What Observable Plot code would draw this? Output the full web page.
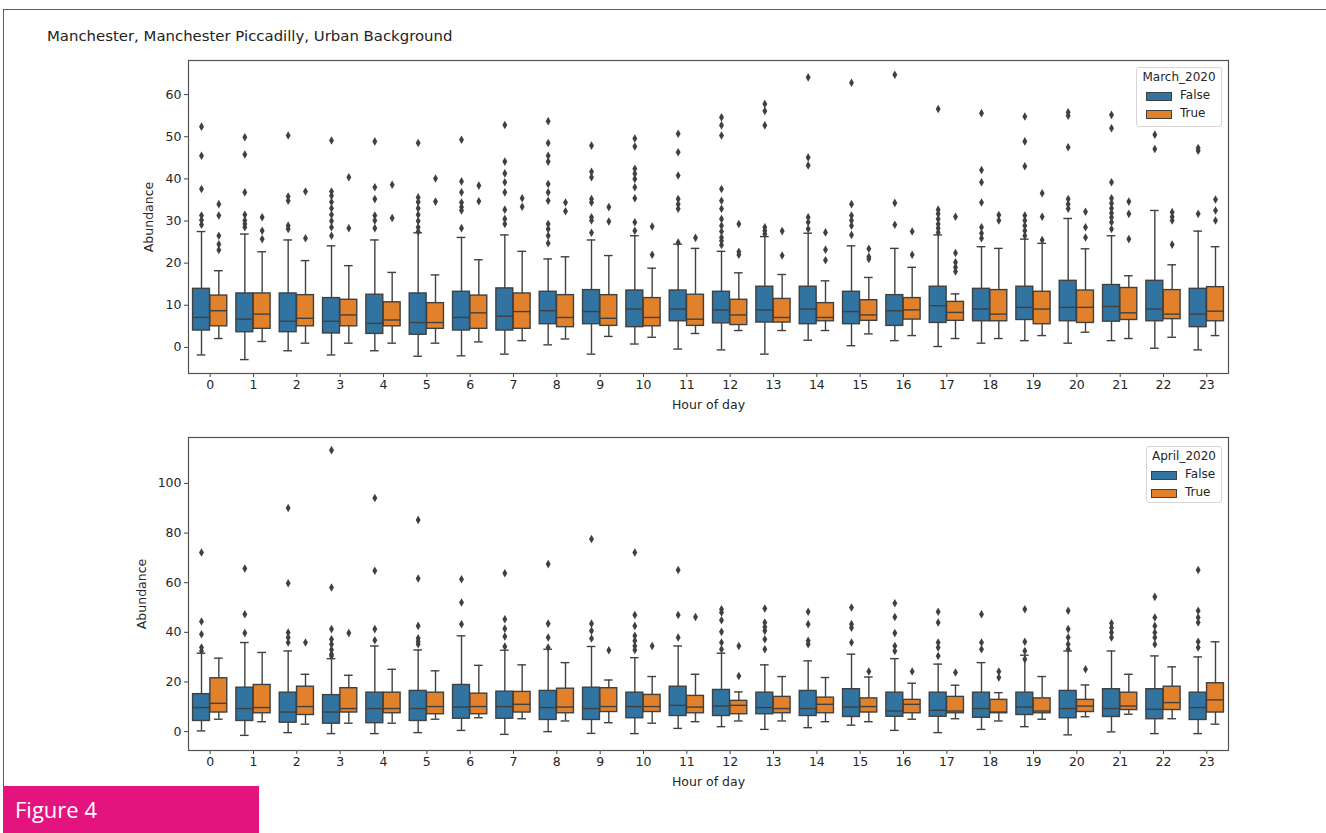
<!DOCTYPE html>
<html>
<head>
<meta charset="utf-8">
<script src="https://cdn.jsdelivr.net/npm/d3@7"></script>
<script src="https://cdn.jsdelivr.net/npm/@observablehq/plot@0.6"></script>
<style>
  html, body { margin: 0; padding: 0; background: #fff; }
  body { width: 1326px; height: 833px; position: relative; overflow: hidden; font-family: "DejaVu Sans", sans-serif; }
  .pinkTop { position: absolute; left: 3px; top: 9px; width: 1323px; height: 1px; background: #e4147f; }
  .pinkLeft { position: absolute; left: 3px; top: 9px; width: 1px; height: 777px; background: #e4147f; }
  .fig { position: absolute; left: 3px; top: 786px; width: 256px; height: 47px; background: #e4147f; color: #fff;
         font-family: "Open Sans", Lato, sans-serif; font-size: 22px; line-height: 47px; padding-left: 12px; box-sizing: border-box; }
  .title { position: absolute; left: 47px; top: 27px; font-size: 14.9px; color: #222; font-family: "DejaVu Sans", sans-serif; }
  .panel { position: absolute; left: 0; }
  .legend { position: absolute; border: 1px solid #d6d6d6; border-radius: 3px; background: rgba(255,255,255,0.85);
            font-family: "DejaVu Sans", sans-serif; font-size: 12px; color: #262626; box-sizing: border-box; }
  .legend .lt { position: absolute; left: 0; right: 0; text-align: center; }
  .legend .sw { position: absolute; width: 26px; height: 9px; border: 1px solid #404040; box-sizing: border-box; }
  .legend .lb { position: absolute; }
</style>
</head>
<body>
<div class="pinkTop"></div>
<div class="pinkLeft"></div>
<div class="title">Manchester, Manchester Piccadilly, Urban Background</div>
<div id="top" class="panel" style="top:40px"></div>
<div id="bottom" class="panel" style="top:417px"></div>
<div id="legTop" class="legend" style="left:1136px;top:67px;width:86px;height:60px"></div>
<div id="legBottom" class="legend" style="left:1146px;top:446px;width:76px;height:57px"></div>
<div class="fig">Figure 4</div>
<script>
// ---------- categories ----------
const hours = [0,1,2,3,4,5,6,7,8,9,10,11,12,13,14,15,16,17,18,19,20,21,22,23];
const groups = ["False", "True"];
const colors = ["#3274a1", "#e1812c"];
const marchTicks = [0,10,20,30,40,50,60];
const aprilTicks = [0,20,40,60,80,100];

// ---------- March_2020 = False ----------
const marchFalseQ1  = [4.0,3.6,3.6,3.3,3.2,3.0,4.0,4.0,5.5,5.5,4.8,6.2,5.7,5.9,5.5,5.5,5.1,5.8,6.2,6.5,6.2,6.1,6.2,4.8];
const marchFalseMed = [7.1,6.7,6.2,6.2,5.7,5.9,7.1,7.4,8.7,8.5,9.1,9.1,8.9,8.9,9.1,8.5,8.7,9.9,9.1,9.5,9.5,9.7,9.1,7.9];
const marchFalseQ3  = [13.9,12.8,12.8,11.7,12.5,12.8,13.2,14.0,13.2,13.6,13.5,13.5,13.2,14.4,14.4,13.2,12.4,14.4,13.9,14.4,15.8,14.8,15.8,13.9];
const marchFalseLo  = [-1.8,-2.9,-0.8,-1.8,-0.8,-2.1,-2.0,-1.6,0.6,-1.6,0.8,-0.4,-0.6,-1.6,1.7,0.4,1.6,0.2,1.0,1.6,1.0,1.6,-0.2,-0.6];
const marchFalseHi  = [27.5,26.9,25.5,24.1,25.5,27.2,26.1,26.7,21.0,25.5,26.5,24.5,22.8,26.3,27.1,24.1,23.5,26.7,23.9,25.7,30.6,26.5,32.5,27.6];
const marchFalseOut = [
  [29.1,30.2,31.3,37.6,45.5,52.4],
  [28.5,29.3,30.1,31.5,36.8,45.8,49.9],
  [28.1,28.9,34.8,35.8,50.3],
  [26.5,28.5,30,31.5,33,34.5,36,37,49.1],
  [28.3,30.1,31.3,35.2,38,48.9],
  [27.5,28.5,30,31.5,33,34.5,35.6,48.5],
  [28.3,32.5,33.3,34.4,36.8,39.4,49.3],
  [29.3,30.5,32.7,36.8,39.2,41.3,44.1,52.8],
  [24.7,26.5,28.1,29.3,34.8,36.8,38.8,44.1,45.5,48.5,53.7],
  [27.2,30.1,30.9,34.4,35.2,40.4,41.7,47.9],
  [27.7,29.7,35.4,38,40,41.2,42.4,47.7,49.6],
  [24.9,32.9,34,35.2,40.8,46.3,50.7],
  [24.3,25.3,26.1,27.5,28.9,30.5,32.9,34.8,37.6,50.3,52.7,54.6],
  [26.9,27.7,28.5,52.7,56.1,57.8],
  [28.1,29.7,30.9,43.2,45.1,64.1],
  [26.7,28.9,30.1,31.3,34,62.8],
  [29.1,34.3,64.7],
  [27.3,28.3,29.3,30.5,31.7,32.7,56.6],
  [25.9,27.1,28.5,34.4,39.2,42.1,55.6],
  [26.5,27.7,28.9,30.1,31.3,43,48.9,54.8],
  [32.9,34,35.2,47.5,55,55.8],
  [28.1,29.7,30.9,31.9,33,34.2,35.4,39.2,52,55.2],
  [47.1,50.5],
  [31.7,46.7,47.3]
];

// ---------- March_2020 = True ----------
const marchTrueQ1  = [5.0,4.4,5.0,5.0,5.0,4.4,4.4,4.4,4.8,5.1,5.0,5.1,5.3,5.9,6.2,6.3,6.6,6.3,6.2,5.5,5.8,6.5,6.7,6.2];
const marchTrueMed = [8.7,7.9,6.9,7.7,6.5,5.9,8.2,8.5,7.1,6.9,7.1,6.7,7.7,7.1,7.1,7.7,8.9,8.3,7.9,9.1,9.5,8.2,7.9,8.6];
const marchTrueQ3  = [12.3,12.8,12.4,11.3,10.7,10.5,12.3,12.8,12.4,12.4,11.7,12.5,11.3,11.5,10.5,11.2,11.7,10.8,13.6,13.2,13.5,14.1,13.6,14.3];
const marchTrueLo  = [2.1,1.4,1.0,1.0,1.0,1.0,1.3,1.6,2.0,2.6,2.4,3.3,4.0,4.0,4.0,3.2,2.8,2.1,2.1,2.8,3.6,2.1,2.4,2.8];
const marchTrueHi  = [18.2,22.7,20.6,19.4,17.8,17.2,20.8,22.8,21.5,21.8,18.8,23.5,17.7,17.3,15.8,16.6,19.0,12.7,23.5,24.7,23.4,17.0,19.6,23.9];
const marchTrueOut = [
  [23.1,24.5,26.5,31.3,34],
  [25.7,27.7,30.9],
  [25.9,37],
  [28.3,40.4],
  [30.7,38.6],
  [34.6,40.1],
  [34.7,38.4],
  [33.4,35.4],
  [32.3,34.4],
  [29.9,33.3],
  [22,28.7],
  [26],
  [22,22.7,29.3],
  [21.8,27.6],
  [20.7,23.2,27.3],
  [21,21.5,23.4],
  [22,27.5],
  [18,19,20.2,22.4,31],
  [30.1,31.4],
  [25.5,31,36.6],
  [26.1,28.5,32.2],
  [25.7,31.7,34.6],
  [24.4,30.1,31,32.1],
  [30.1,32.5,35.1]
];

// ---------- April_2020 = False ----------
const aprilFalseQ1  = [4.3,4.3,3.6,3.2,3.4,4.3,5.2,5.2,4.7,4.7,5.4,6.3,6.3,7.0,6.3,5.9,6.0,6.0,5.6,6.7,5.4,5.9,5.0,4.7];
const aprilFalseMed = [9.7,9.3,7.9,7.9,9.3,9.3,9.9,10.1,9.7,9.3,10.1,10.6,10.3,9.7,9.3,9.9,8.3,8.6,9.3,9.9,9.3,9.3,9.0,9.7];
const aprilFalseQ3  = [15.1,17.7,15.7,14.7,15.7,16.4,18.8,16.1,16.4,17.7,15.7,18.1,16.8,15.7,16.4,17.1,15.7,15.7,15.7,15.7,16.4,17.1,17.1,15.7];
const aprilFalseLo  = [0.3,-1.5,-0.4,-0.8,-0.8,-0.4,0.5,-1.1,0,-0.7,-0.8,1.3,2.0,0.9,1.6,2.6,0.5,-0.4,0.9,2.0,-1.3,-0.1,-0.8,-0.8];
const aprilFalseHi  = [31.6,35.9,32.5,29.4,34.5,32.9,38.6,32.8,33.2,34.3,29.8,34.5,31.6,26.9,28.5,31.2,29.4,27.2,27.8,30.8,32.5,32.5,30.5,30.1];
const aprilFalseOut = [
  [32.5,33.9,39.2,44.4,72.2],
  [39.7,47.3,65.7],
  [35.9,37.9,39.9,59.8,90.1],
  [30.5,31.2,33,35.2,37.2,41.3,58.1,113.4],
  [36.8,41.3,64.8,94.1],
  [35.2,36.3,37.6,42.6,61.7,85.3],
  [43.3,52,61.4],
  [34.3,38.3,41.5,45.3,63.8],
  [33.9,37.9,43.5,67.5],
  [37.5,40.6,43.5,77.6],
  [32.9,34.5,36.6,38.6,42.6,47,72.2],
  [37.9,47,65.1],
  [33.2,35.9,40.2,44.9,48,49.3],
  [33.2,37.2,40.6,42.2,44,49.6],
  [35.2,36.6,43.3,48.3],
  [35.9,41.9,43.3,50],
  [32.5,34.5,39.7,46.2,51.7],
  [30.5,33.9,35.9,44,48.3],
  [33.2,35.9,47.3],
  [29.2,32.5,36.2,49.3],
  [33.2,35.2,37.9,41.3,48.7],
  [37.9,39.9,41.9,43.7],
  [35.2,37.9,39.9,42.6,46,54.3],
  [33.9,36.2,44,46,48.7,65.1]
];

// ---------- April_2020 = True ----------
const aprilTrueQ1  = [7.7,7.4,6.7,7.7,7.4,7.0,7.0,7.7,7.4,7.9,7.9,7.4,7.0,7.4,7.4,7.7,7.4,7.4,7.4,7.4,7.9,8.7,8.7,7.7];
const aprilTrueMed = [11.4,9.7,10.1,9.3,9.3,10.1,10.1,11.0,9.9,10.1,10.1,9.9,10.6,9.3,11.0,10.1,11.0,8.3,7.9,8.3,10.3,10.3,11.7,12.8];
const aprilTrueQ3  = [21.5,18.8,18.1,17.5,15.7,15.7,15.3,16.0,17.3,17.5,14.8,14.4,12.4,14.0,13.7,13.4,12.8,14.0,12.8,13.4,12.8,15.7,18.1,19.5];
const aprilTrueLo  = [5.0,4.0,3.0,3.4,3.4,5.0,5.6,5.2,4.3,3.6,3.4,4.0,4.3,4.3,4.0,4.0,5.0,5.2,4.3,5.0,6.0,7.0,5.2,3.0];
const aprilTrueHi  = [29.6,31.9,23.1,22.7,25.1,24.5,26.7,26.9,27.8,20.8,22.2,23.1,16.0,22.2,21.8,22.0,19.5,18.7,15.7,22.2,18.8,23.1,26.1,36.2];
const aprilTrueOut = [
  [],[],[35.9],[39.7],[],[],[],[],[],[32.8],[34.5],[46.2],
  [22.4,34.5],[],[],[24.2],[24.2],[23.8],[21.8,24.2],[],[25.1],[],[],[]
];

// ---------- table builders ----------
function boxRows(group, q1, med, q3, lo, hi) {
  return hours.map((h, i) => ({hour: h, group, q1: q1[i], med: med[i], q3: q3[i], lo: lo[i], hi: hi[i]}));
}
function outRows(group, out) {
  return hours.flatMap((h, i) => out[i].map(v => ({hour: h, group, v})));
}
const dodge = {False: -0.2, True: 0.2};
const cx = d => d.hour + dodge[d.group];
const EDGE = "#404040";

function panel({boxes, outliers, yDomain, yTicks, labelOffsetY}) {
  const lw = 1.4;
  return Plot.plot({
    width: 1326,
    height: 380,
    marginLeft: 188,
    marginRight: 98,
    marginTop: 20,
    marginBottom: 47,
    style: {fontFamily: "DejaVu Sans, sans-serif", fontSize: "12.5px", color: "#262626", background: "transparent", overflow: "visible"},
    x: {type: "linear", domain: [-0.5, 23.5]},
    y: {type: "linear", domain: yDomain},
    color: {domain: groups, range: colors},
    marks: [
      Plot.ruleX(boxes, {x: cx, y1: "lo", y2: "q1", stroke: EDGE, strokeWidth: lw}),
      Plot.ruleX(boxes, {x: cx, y1: "q3", y2: "hi", stroke: EDGE, strokeWidth: lw}),
      Plot.ruleY(boxes, {y: "lo", x1: d => cx(d) - 0.1, x2: d => cx(d) + 0.1, stroke: EDGE, strokeWidth: lw}),
      Plot.ruleY(boxes, {y: "hi", x1: d => cx(d) - 0.1, x2: d => cx(d) + 0.1, stroke: EDGE, strokeWidth: lw}),
      Plot.rect(boxes, {x1: d => cx(d) - 0.195, x2: d => cx(d) + 0.195, y1: "q1", y2: "q3", fill: "group", stroke: EDGE, strokeWidth: lw}),
      Plot.ruleY(boxes, {y: "med", x1: d => cx(d) - 0.195, x2: d => cx(d) + 0.195, stroke: EDGE, strokeWidth: lw}),
      Plot.dot(outliers, {x: cx, y: "v", symbol: "diamond", r: 2.6, fill: EDGE, stroke: "none"}),
      Plot.axisX({ticks: hours, tickFormat: d => String(d), tickSize: 4, tickPadding: 3, stroke: "#444",
                  label: "Hour of day", labelAnchor: "center", labelOffset: 35, labelArrow: "none"}),
      Plot.axisY({ticks: yTicks, tickFormat: d => String(d), tickSize: 4, tickPadding: 3, stroke: "#444",
                  label: "Abundance", labelAnchor: "center", labelOffset: labelOffsetY, labelArrow: "none"}),
      Plot.frame({stroke: "#555", strokeWidth: 1.2})
    ]
  });
}

const marchBoxes = boxRows("False", marchFalseQ1, marchFalseMed, marchFalseQ3, marchFalseLo, marchFalseHi)
  .concat(boxRows("True", marchTrueQ1, marchTrueMed, marchTrueQ3, marchTrueLo, marchTrueHi));
const marchOut = outRows("False", marchFalseOut).concat(outRows("True", marchTrueOut));
const aprilBoxes = boxRows("False", aprilFalseQ1, aprilFalseMed, aprilFalseQ3, aprilFalseLo, aprilFalseHi)
  .concat(boxRows("True", aprilTrueQ1, aprilTrueMed, aprilTrueQ3, aprilTrueLo, aprilTrueHi));
const aprilOut = outRows("False", aprilFalseOut).concat(outRows("True", aprilTrueOut));

document.getElementById("top").append(panel({boxes: marchBoxes, outliers: marchOut, yDomain: [-6.2, 68.1], yTicks: marchTicks, labelOffsetY: 44}));
document.getElementById("bottom").append(panel({boxes: aprilBoxes, outliers: aprilOut, yDomain: [-7.6, 118.5], yTicks: aprilTicks, labelOffsetY: 51}));

// ---------- legends ----------
function legend(id, title, swLeft, lbLeft) {
  const el = document.getElementById(id);
  const t = document.createElement("div");
  t.className = "lt"; t.style.top = "2px"; t.textContent = title; el.append(t);
  groups.forEach((g, i) => {
    const sw = document.createElement("div");
    sw.className = "sw"; sw.style.left = swLeft + "px"; sw.style.top = (24 + i * 18) + "px"; sw.style.background = colors[i];
    const lb = document.createElement("div");
    lb.className = "lb"; lb.style.left = lbLeft + "px"; lb.style.top = (20 + i * 18) + "px"; lb.textContent = g;
    el.append(sw, lb);
  });
}
legend("legTop", "March_2020", 9, 43);
legend("legBottom", "April_2020", 4, 38);
</script>
</body>
</html>
